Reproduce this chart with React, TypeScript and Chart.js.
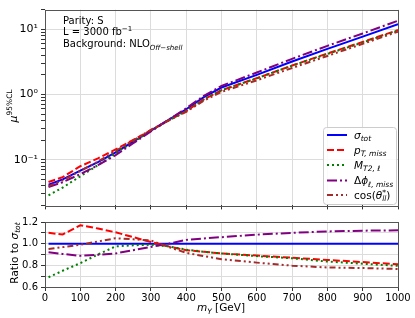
import React, { useEffect, useRef } from 'react';
import { Chart, registerables } from 'chart.js';
Chart.register(...registerables);

// ---------------- data ----------------
const masses = [10, 50, 100, 150, 200, 250, 300, 350, 400, 450, 500, 600, 700, 800, 900, 1000];

const muTot = [0.0415, 0.05, 0.068, 0.092, 0.13, 0.19, 0.28, 0.41, 0.594, 0.91, 1.28, 2.0, 3.2, 5.0, 7.7, 12.0];
const muPtMiss = [0.0457, 0.0543, 0.0796, 0.105, 0.144, 0.201, 0.284, 0.4, 0.558, 0.842, 1.165, 1.78, 2.78, 4.25, 6.39, 9.72];
const muMt2 = [0.0286, 0.0375, 0.0558, 0.0828, 0.127, 0.187, 0.277, 0.4, 0.561, 0.842, 1.165, 1.77, 2.77, 4.18, 6.28, 9.54];
const muDphi = [0.0382, 0.0453, 0.0604, 0.0825, 0.118, 0.179, 0.272, 0.41, 0.615, 0.954, 1.357, 2.17, 3.52, 5.57, 8.62, 13.5];
const muCos = [0.0394, 0.0484, 0.0673, 0.0938, 0.137, 0.198, 0.288, 0.398, 0.544, 0.805, 1.097, 1.65, 2.55, 3.9, 5.97, 9.19];

const ratioTot = [1, 1, 1, 1, 1, 1, 1, 1, 1, 1, 1, 1, 1, 1, 1, 1];
const ratioPtMiss = [1.1, 1.085, 1.17, 1.14, 1.105, 1.06, 1.015, 0.975, 0.94, 0.925, 0.91, 0.89, 0.87, 0.85, 0.83, 0.81];
const ratioMt2 = [0.69, 0.75, 0.82, 0.9, 0.975, 0.985, 0.99, 0.975, 0.945, 0.925, 0.91, 0.885, 0.865, 0.835, 0.815, 0.795];
const ratioDphi = [0.92, 0.905, 0.888, 0.897, 0.91, 0.94, 0.97, 1.0, 1.035, 1.048, 1.06, 1.083, 1.1, 1.113, 1.12, 1.123];
const ratioCos = [0.95, 0.968, 0.99, 1.02, 1.05, 1.04, 1.03, 0.97, 0.915, 0.885, 0.857, 0.825, 0.797, 0.78, 0.775, 0.766];

const xTicks = [0, 100, 200, 300, 400, 500, 600, 700, 800, 900, 1000];
const ratioTickTenths = [6, 7, 8, 9, 10, 11, 12];

// ---------------- styles ----------------
const FONT = '"DejaVu Sans", sans-serif';
const GRID = '#dcdcdc';
const FRAME = '#555555';
const LW = 2;
const styles = [
  { color: '#0000ff', dash: [] as number[] },
  { color: '#ff0000', dash: [7, 3] },
  { color: '#008000', dash: [2, 3] },
  { color: '#800080', dash: [10, 3, 2, 3] },
  { color: '#a52a2a', dash: [6, 3, 2, 3, 2, 3] },
];

type Part = { t: string; it?: boolean; sz?: number; dy?: number; na?: boolean };

function drawRich(ctx: CanvasRenderingContext2D, x: number, y: number, parts: Part[], align: 'left' | 'center' | 'right', base: number) {
  const fontFor = (p: Part) => `${p.it ? 'italic ' : ''}${p.sz || base}px ${FONT}`;
  let w = 0;
  for (const p of parts) {
    ctx.font = fontFor(p);
    if (!p.na) w += ctx.measureText(p.t).width;
  }
  let cx = align === 'center' ? x - w / 2 : align === 'right' ? x - w : x;
  ctx.textAlign = 'left';
  ctx.textBaseline = 'alphabetic';
  ctx.fillStyle = '#000';
  for (const p of parts) {
    ctx.font = fontFor(p);
    ctx.fillText(p.t, cx, y + (p.dy || 0));
    if (!p.na) cx += ctx.measureText(p.t).width;
  }
}

function drawRotated(ctx: CanvasRenderingContext2D, cx: number, cy: number, parts: Part[], base: number) {
  ctx.save();
  ctx.translate(cx + base * 0.35, cy);
  ctx.rotate(-Math.PI / 2);
  drawRich(ctx, 0, 0, parts, 'center', base);
  ctx.restore();
}

const framePlugin = {
  id: 'frame',
  afterDraw(chart: any) {
    const { ctx, chartArea: a } = chart;
    ctx.save();
    ctx.strokeStyle = FRAME;
    ctx.lineWidth = 1;
    ctx.setLineDash([]);
    ctx.strokeRect(Math.round(a.left) + 0.5, Math.round(a.top) + 0.5, Math.round(a.right - a.left), Math.round(a.bottom - a.top));
    ctx.restore();
  },
};

const sub = (t: string, sz = 7.5): Part => ({ t, it: true, sz, dy: 2.5 });

const legendItems: Part[][] = [
  [{ t: 'σ', it: true }, sub('tot')],
  [{ t: 'p', it: true }, sub('T, miss')],
  [{ t: 'M', it: true }, sub('T2, ℓ')],
  [{ t: 'Δ' }, { t: 'ϕ', it: true }, sub('ℓ, miss')],
  [{ t: 'cos(' }, { t: 'θ', it: true }, { t: '*', sz: 7.5, dy: -4, na: true }, sub('ll', 7.5), { t: ')' }],
];

const topTextPlugin = {
  id: 'topText',
  afterDraw(chart: any) {
    const ctx: CanvasRenderingContext2D = chart.ctx;
    ctx.save();
    // annotation
    drawRich(ctx, 63, 24, [{ t: 'Parity: S' }], 'left', 10);
    drawRich(ctx, 63, 35, [{ t: 'L = 3000 fb' }, { t: '−1', sz: 7, dy: -4 }], 'left', 10);
    drawRich(ctx, 63, 47, [{ t: 'Background: NLO' }, { t: 'Off−shell', it: true, sz: 7, dy: 2.5 }], 'left', 10);
    // y title
    drawRotated(ctx, 13, 106, [{ t: 'μ', it: true, sz: 11 }, { t: '95%CL', sz: 7.5, dy: -5 }], 11);
    // legend
    const L = 323.5, T = 127.5, R = 396.5, B = 204.5;
    ctx.beginPath();
    (ctx as any).roundRect(L, T, R - L, B - T, 3);
    ctx.fillStyle = 'rgba(255,255,255,0.85)';
    ctx.fill();
    ctx.strokeStyle = '#cccccc';
    ctx.lineWidth = 1;
    ctx.stroke();
    const ys = [135, 150, 165, 180.5, 195];
    legendItems.forEach((parts, i) => {
      const s = styles[i];
      ctx.save();
      ctx.strokeStyle = s.color;
      ctx.lineWidth = LW;
      ctx.setLineDash(s.dash);
      ctx.beginPath();
      ctx.moveTo(327, ys[i]);
      ctx.lineTo(347, ys[i]);
      ctx.stroke();
      ctx.restore();
      drawRich(ctx, 354, ys[i] + 3.5, parts, 'left', 10.5);
    });
    ctx.restore();
  },
};

const bottomTextPlugin = {
  id: 'bottomText',
  afterDraw(chart: any) {
    const ctx: CanvasRenderingContext2D = chart.ctx;
    ctx.save();
    drawRotated(ctx, 14, 253 - 213, [{ t: 'Ratio to ' }, { t: 'σ', it: true }, sub('tot')], 10.5);
    drawRich(ctx, 221, 311 - 213, [{ t: 'm', it: true }, sub('Y'), { t: ' [GeV]' }], 'center', 10.5);
    ctx.restore();
  },
};

function makeDatasets(series: number[][]) {
  return series.map((vals, i) => ({
    data: masses.map((m, j) => ({ x: m, y: vals[j] })),
    borderColor: styles[i].color,
    backgroundColor: styles[i].color,
    borderDash: styles[i].dash,
    borderWidth: LW,
    pointRadius: 0,
    tension: 0,
    fill: false,
    order: 5 - i,
  }));
}

const isPow10 = (v: number) => Math.abs(Math.log10(v) - Math.round(Math.log10(v))) < 1e-6;
const SUP: Record<string, string> = { '-': '⁻', '0': '⁰', '1': '¹', '2': '²', '3': '³' };
const powLabel = (v: number) => '10' + String(Math.round(Math.log10(v))).split('').map((c) => SUP[c] || c).join('');

export default function App() {
  const topRef = useRef<HTMLCanvasElement>(null);
  const botRef = useRef<HTMLCanvasElement>(null);

  useEffect(() => {
    Chart.defaults.font.family = FONT;
    Chart.defaults.font.size = 10;
    Chart.defaults.color = '#000';

    const logTicks: number[] = [];
    for (let e = -2; e <= 1; e++) {
      for (let m = 1; m <= 9; m++) {
        const v = m * Math.pow(10, e);
        if (v >= 0.02 - 1e-9 && v <= 20 + 1e-9) logTicks.push(v);
      }
    }

    const top = new Chart(topRef.current as HTMLCanvasElement, {
      type: 'line',
      data: { datasets: makeDatasets([muTot, muPtMiss, muMt2, muDphi, muCos]) as any },
      options: {
        animation: false,
        responsive: false,
        devicePixelRatio: 1,
        layout: { padding: { top: 5, right: 17, left: 0, bottom: 0 } },
        plugins: { legend: { display: false }, tooltip: { enabled: false } },
        scales: {
          x: {
            type: 'linear',
            min: 0,
            max: 1000,
            afterBuildTicks: (s: any) => { s.ticks = xTicks.map((v) => ({ value: v })); },
            afterFit: (s: any) => { s.height = 5; },
            ticks: { display: false },
            grid: { color: GRID, tickColor: '#333', tickLength: 4, drawTicks: true },
            border: { display: false },
          },
          y: {
            type: 'logarithmic',
            min: 0.02,
            max: 20,
            afterBuildTicks: (s: any) => { s.ticks = logTicks.map((v) => ({ value: v, major: isPow10(v) })); },
            afterFit: (s: any) => { s.width = 45; },
            ticks: {
              autoSkip: false,
              padding: 3,
              callback: (v: any) => (isPow10(Number(v)) ? powLabel(Number(v)) : ''),
              font: { size: 11 },
            },
            grid: {
              color: (c: any) => (c.tick && isPow10(c.tick.value) ? GRID : 'rgba(0,0,0,0)'),
              tickColor: '#333',
              tickLength: 4,
            },
            border: { display: false },
          },
        },
      } as any,
      plugins: [framePlugin, topTextPlugin],
    });

    const bot = new Chart(botRef.current as HTMLCanvasElement, {
      type: 'line',
      data: { datasets: makeDatasets([ratioTot, ratioPtMiss, ratioMt2, ratioDphi, ratioCos]) as any },
      options: {
        animation: false,
        responsive: false,
        devicePixelRatio: 1,
        layout: { padding: { top: 8, right: 17, left: 0, bottom: 0 } },
        plugins: { legend: { display: false }, tooltip: { enabled: false } },
        scales: {
          x: {
            type: 'linear',
            min: 0,
            max: 1000,
            afterBuildTicks: (s: any) => { s.ticks = xTicks.map((v) => ({ value: v })); },
            afterFit: (s: any) => { s.height = 31; },
            ticks: { autoSkip: false, maxRotation: 0, padding: 1, callback: (v: any) => String(v) },
            grid: { color: GRID, tickColor: '#333', tickLength: 4 },
            border: { display: false },
          },
          y: {
            type: 'linear',
            min: 0.6,
            max: 1.2,
            afterBuildTicks: (s: any) => { s.ticks = ratioTickTenths.map((k) => ({ value: k / 10 })); },
            afterFit: (s: any) => { s.width = 45; },
            ticks: {
              autoSkip: false,
              padding: 3,
              callback: (v: any) => {
                const k = Math.round(Number(v) * 10);
                return k % 2 === 0 ? (k / 10).toFixed(1) : '';
              },
            },
            grid: { color: GRID, tickColor: '#333', tickLength: 4 },
            border: { display: false },
          },
        },
      } as any,
      plugins: [framePlugin, bottomTextPlugin],
    });

    return () => {
      top.destroy();
      bot.destroy();
    };
  }, []);

  return (
    <div style={{ position: 'fixed', left: 0, top: 0, width: 415, height: 318, background: '#fff' }}>
      <canvas ref={topRef} width={415} height={215} style={{ position: 'absolute', left: 0, top: 0, width: 415, height: 215 }} />
      <canvas ref={botRef} width={415} height={105} style={{ position: 'absolute', left: 0, top: 213, width: 415, height: 105 }} />
    </div>
  );
}
